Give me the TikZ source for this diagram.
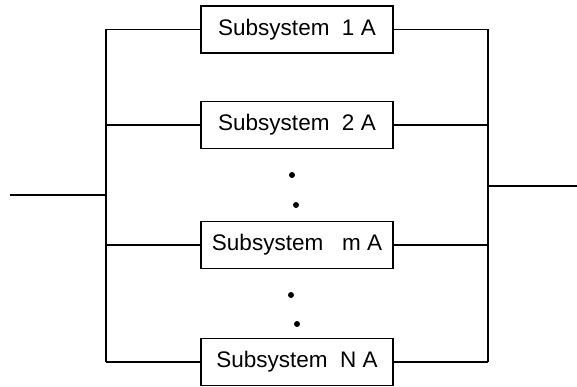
\documentclass[tikz,border=0pt]{standalone}
\usepackage{fontspec}
\setmainfont{Liberation Sans}

\begin{document}
\begin{tikzpicture}[x=1pt, y=-1pt,
  subbox/.style={draw, line width=1.4pt, minimum width=192pt,
    minimum height=47pt, inner sep=0pt,
    font=\fontsize{22.5}{27}\selectfont},
  wire/.style={line width=1.4pt},
  dot/.style={circle, fill, inner sep=0pt, minimum size=6pt}]
  \useasboundingbox (0,0) rectangle (577,387);

  \node [subbox] (sub1) at (297,29.5) {Subsystem~~1 A};
  \node [subbox] (sub2) at (297,125) {Subsystem~~2 A};
  \node [subbox] (subm) at (297,245) {Subsystem~~~m A};
  \node [subbox] (subN) at (297,362) {Subsystem~~N A};

  \node [dot] (dota) at (292,175) {};
  \node [dot] (dotb) at (296,205) {};
  \node [dot] (dotc) at (291,295) {};
  \node [dot] (dotd) at (297,324) {};

  \coordinate (in) at (10,195);
  \coordinate (out) at (577,186);
  \coordinate (ltop) at (106,29.5);
  \coordinate (lbot) at (106,362);
  \coordinate (rtop) at (488,29.5);
  \coordinate (rbot) at (488,362);

  \draw [wire] (ltop) -- (lbot);
  \draw [wire] (rtop) -- (rbot);
  \draw [wire] (in) -- (in -| ltop);
  \draw [wire] (out) -- (out -| rtop);
  \foreach \n in {1,2,m,N} {
    \draw [wire] (sub\n.west) -- (sub\n.west -| ltop);
    \draw [wire] (sub\n.east) -- (sub\n.east -| rtop);
  }
\end{tikzpicture}
\end{document}
